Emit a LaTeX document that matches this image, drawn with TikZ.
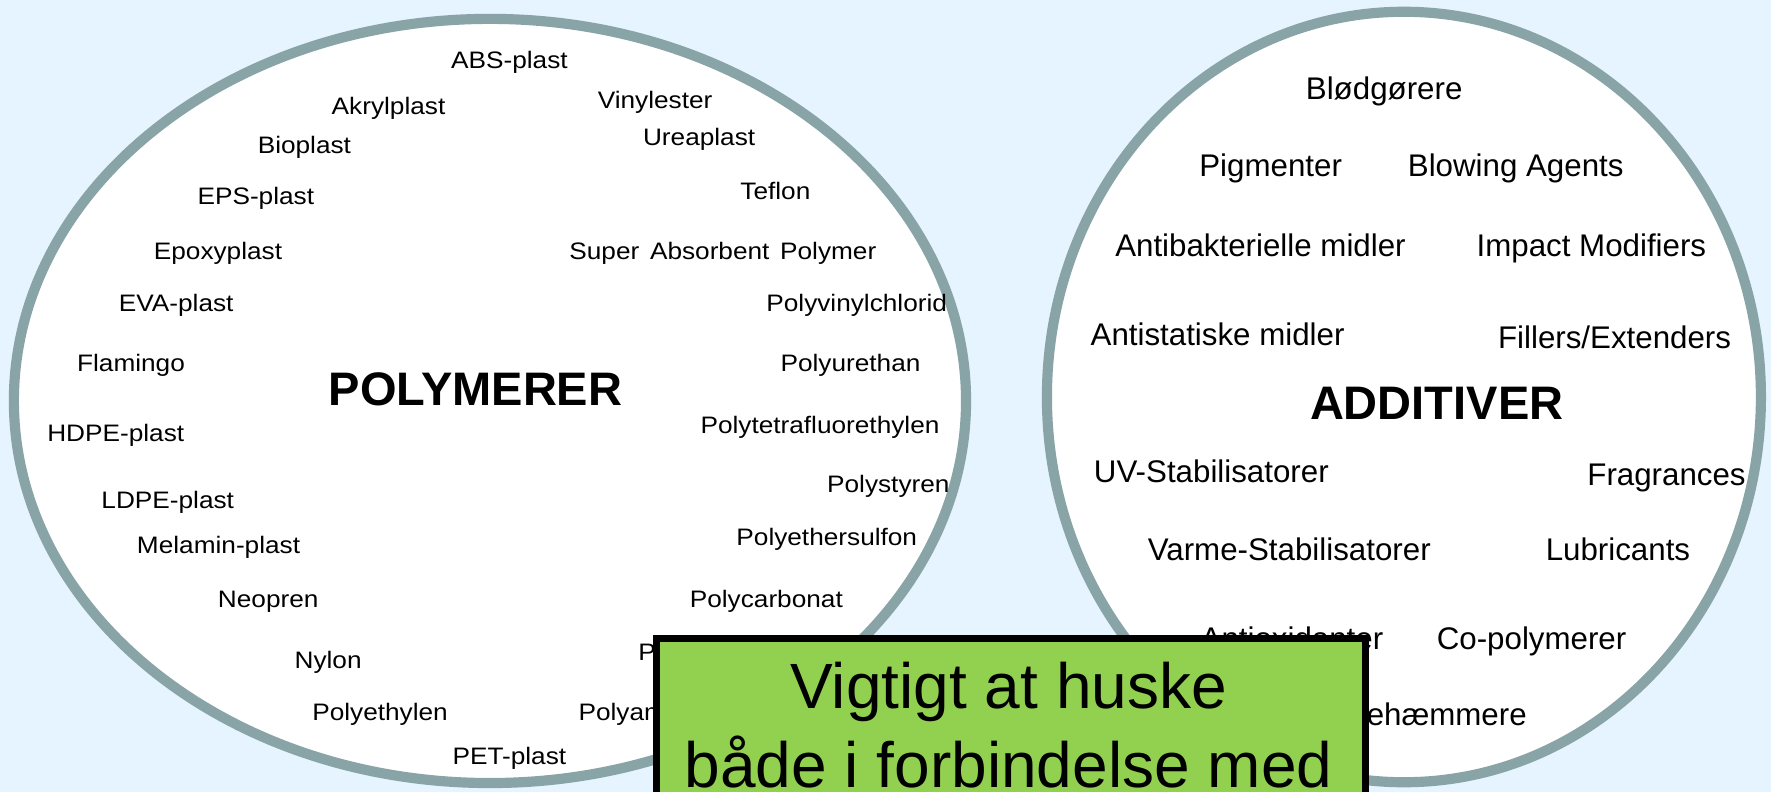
\documentclass[tikz,border=0pt]{standalone}
\usepackage{fontspec}
\setmainfont{Liberation Sans}
\newfontfamily\widefont[FakeStretch=1.1]{Liberation Sans}
\definecolor{bgblue}{HTML}{E5F4FE}
\definecolor{ringgray}{HTML}{88A4A7}
\definecolor{notegreen}{HTML}{92D050}
\begin{document}
\begin{tikzpicture}[x=0.025cm,y=-0.025cm,
  poly/.style={font=\widefont\fontsize{15}{18}\selectfont, inner sep=0pt, anchor=base},
  addi/.style={font=\fontsize{19.7}{23}\selectfont, inner sep=0pt, anchor=base},
  title/.style={font=\bfseries\fontsize{29.6}{34}\selectfont, inner sep=0pt, anchor=base},
  ring/.style={draw=ringgray, line width=6.4pt, fill=white},
  notebox/.style={draw=black, line width=4.3pt, fill=notegreen, inner sep=0pt, anchor=north west},
  notetext/.style={font=\fontsize{40.3}{48}\selectfont, inner sep=0pt, anchor=base}]
\fill[bgblue] (0,0) rectangle (1568,701);
\useasboundingbox (0,0) rectangle (1568,701);
% rings
\draw[ring] (433.8,355) ellipse [x radius=10.535cm, y radius=8.455cm];
\draw[ring] (1243,351.5) ellipse [x radius=7.9cm, y radius=8.525cm];
% polymers
\node[poly] (abs) at (451,61) {ABS-plast};
\node[poly] (akryl) at (344,101.5) {Akrylplast};
\node[poly] (vinyl) at (580,96) {Vinylester};
\node[poly] (bio) at (269.5,136) {Bioplast};
\node[poly] (urea) at (619,129) {Ureaplast};
\node[poly] (eps) at (226.5,181.5) {EPS-plast};
\node[poly] (teflon) at (686.5,176.5) {Teflon};
\node[poly] (epoxy) at (193,229.5) {Epoxyplast};
\node[poly] (sap) at (640,229.5) {Super\hspace{0.45em}Absorbent\hspace{0.45em}Polymer};
\node[poly] (eva) at (156,276) {EVA-plast};
\node[poly] (pvc) at (758.5,276) {Polyvinylchlorid};
\node[poly] (flamingo) at (116,329) {Flamingo};
\node[poly] (pur) at (753,329) {Polyurethan};
\node[poly] (hdpe) at (102.5,391) {HDPE-plast};
\node[poly] (ptfe) at (726,383.5) {Polytetrafluorethylen};
\node[poly] (ldpe) at (148.5,450) {LDPE-plast};
\node[poly] (ps) at (786.5,436) {Polystyren};
\node[poly] (melamin) at (193.5,490) {Melamin-plast};
\node[poly] (pes) at (732,483) {Polyethersulfon};
\node[poly] (neopren) at (237.5,537.5) {Neopren};
\node[poly] (pc) at (678.5,537.5) {Polycarbonat};
\node[poly] (nylon) at (290.5,591.5) {Nylon};
\node[poly, anchor=base west] (pp) at (565,584.5) {Polypropylen};
\node[poly] (pe) at (336.5,637.5) {Polyethylen};
\node[poly, anchor=base west] (pa) at (512,637.5) {Polyamid};
\node[poly] (pet) at (451,677) {PET-plast};
\node[title] (polymerer) at (421,359.2) {POLYMERER};
% additives
\node[addi] (blod) at (1225.5,88) {Blødgørere};
\node[addi] (pigm) at (1125,156) {Pigmenter};
\node[addi] (blow) at (1342,156) {Blowing Agents};
\node[addi] (antib) at (1116,227) {Antibakterielle midler};
\node[addi] (impact) at (1409,227) {Impact Modifiers};
\node[addi] (antist) at (1078,306) {Antistatiske midler};
\node[addi] (fill) at (1429.5,308.5) {Fillers/Extenders};
\node[title] (additiver) at (1272,371) {ADDITIVER};
\node[addi] (uv) at (1072.5,427.5) {UV-Stabilisatorer};
\node[addi] (frag) at (1475.5,429.5) {Fragrances};
\node[addi] (varme) at (1141.5,496.5) {Varme-Stabilisatorer};
\node[addi] (lub) at (1432.5,496.5) {Lubricants};
\node[addi, anchor=base east] (antiox) at (1225,575) {Antioxidanter};
\node[addi] (copoly) at (1356,575) {Co-polymerer};
\node[addi, anchor=base east] (flamme) at (1352,642) {Flammehæmmere};
% note box
\node[notebox, minimum width=15.6875cm, minimum height=4.5cm] (note) at (578,562.5) {};
\node[notetext] (line1) at (893,627) {Vigtigt at huske};
\node[notetext] (line2) at (893,697) {både i forbindelse med};
\end{tikzpicture}
\end{document}
